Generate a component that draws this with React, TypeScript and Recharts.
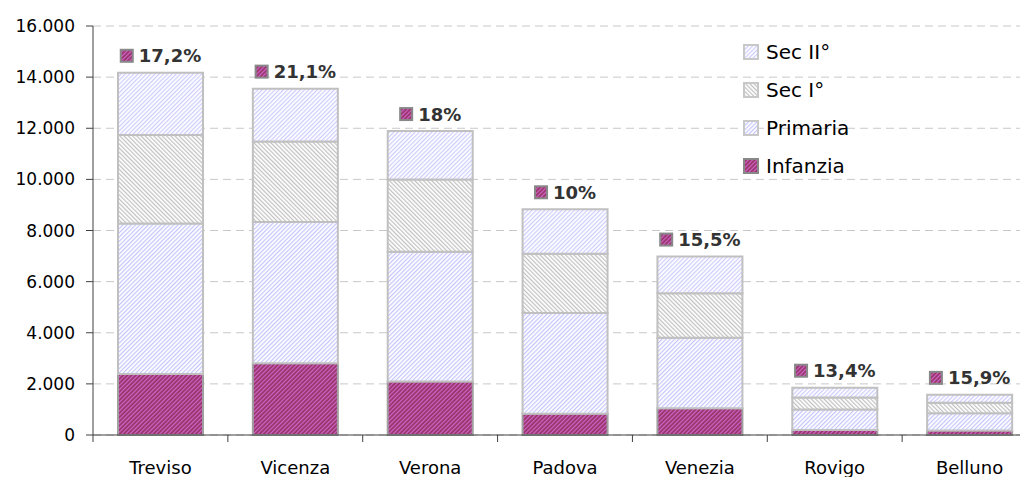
import React from "react";
import { Bar, BarChart, CartesianGrid, LabelList, XAxis, YAxis } from "recharts";

const categories = ["Treviso", "Vicenza", "Verona", "Padova", "Venezia", "Rovigo", "Belluno"];
const infanzia = [2390, 2810, 2090, 830, 1050, 200, 180];
const primaria = [5880, 5520, 5080, 3940, 2750, 800, 670];
const secI = [3470, 3150, 2830, 2320, 1750, 470, 410];
const secII = [2430, 2070, 1890, 1740, 1430, 380, 310];
const shares = ["17,2%", "21,1%", "18%", "10%", "15,5%", "13,4%", "15,9%"];
const yTicks = [0, 2000, 4000, 6000, 8000, 10000, 12000, 14000, 16000];

const data = categories.map((name, i) => ({
  name,
  infanzia: infanzia[i],
  primaria: primaria[i],
  secI: secI[i],
  secII: secII[i],
  share: shares[i],
}));

const CHART_W = 1040;
const CHART_H = 469;
const MARGIN = { top: 18, right: 11, bottom: 2, left: 0 };
const Y_W = 85;
const BAND = (CHART_W - MARGIN.left - MARGIN.right - Y_W) / categories.length;

const SERIES = [
  { key: "secII", label: "Sec II°", fill: "url(#patSec2)" },
  { key: "secI", label: "Sec I°", fill: "url(#patSec1)" },
  { key: "primaria", label: "Primaria", fill: "url(#patPrim)" },
  { key: "infanzia", label: "Infanzia", fill: "url(#patInf)" },
];

const fmt = (v: number) => String(v).replace(/\B(?=(\d{3})+(?!\d))/g, ".");

const font = "'DejaVu Sans', Verdana, sans-serif";

function textWidth(s: string, size: number) {
  let w = 0;
  for (const ch of s) {
    if (ch === "%") w += 1.002;
    else if (ch === ",") w += 0.38;
    else w += 0.696;
  }
  return w * size;
}

function ShareLabel(props: any) {
  const { x, y, width, value } = props;
  const size = 18;
  const tw = textWidth(String(value), size);
  const total = 14 + 5 + tw;
  const left = x + width / 2 - total / 2;
  const cy = y - 17;
  return (
    <g>
      <rect x={left + 1} y={cy - 6} width={12} height={12} fill="url(#patInf)" stroke="#888" strokeWidth={2} />
      <text
        x={left + 19}
        y={cy}
        dominantBaseline="central"
        fontFamily={font}
        fontWeight="bold"
        fontSize={size}
        fill="#333"
      >
        {value}
      </text>
    </g>
  );
}

function CatTick(props: any) {
  const { x, y, payload, index } = props;
  const left = x - BAND / 2;
  return (
    <g>
      <line x1={left} y1={y - 8} x2={left} y2={y - 1} stroke="#404040" strokeWidth={1} />
      {index === categories.length - 1 && (
        <line x1={x + BAND / 2} y1={y - 8} x2={x + BAND / 2} y2={y - 1} stroke="#404040" />
      )}
      <text x={x} y={y + 31} textAnchor="middle" fontFamily={font} fontSize={18} fill="#000">
        {payload.value}
      </text>
    </g>
  );
}

function LegendBox() {
  return (
    <div style={{ position: "absolute", top: 25, left: 734, fontFamily: font, fontSize: 20, color: "#000" }}>
      {SERIES.map((s) => (
        <div key={s.key} style={{ height: 38, display: "flex", alignItems: "center" }}>
          <svg width={24} height={18} style={{ display: "block" }}>
            <rect x={2} y={2} width={14} height={14} fill={s.fill} stroke={s.key === "infanzia" ? "#888" : "#c8c8c8"} strokeWidth={2} />
          </svg>
          <span>{s.label}</span>
        </div>
      ))}
    </div>
  );
}

export default function App() {
  return (
    <div style={{ width: 1020, height: CHART_H, overflow: "hidden", position: "relative" }}>
      <BarChart width={CHART_W} height={CHART_H} data={data} margin={MARGIN} barSize={85}>
        <defs>
          <pattern id="patInf" width="3" height="3" patternUnits="userSpaceOnUse" patternTransform="rotate(45)">
            <rect width="3" height="3" fill="#993366" />
            <rect width="1.2" height="3" fill="#cc66cc" />
          </pattern>
          <pattern id="patPrim" width="3" height="3" patternUnits="userSpaceOnUse" patternTransform="rotate(45)">
            <rect width="3" height="3" fill="#ffffff" />
            <rect width="1.2" height="3" fill="#c4c4ff" />
          </pattern>
          <pattern id="patSec1" width="3" height="3" patternUnits="userSpaceOnUse" patternTransform="rotate(-45)">
            <rect width="3" height="3" fill="#ffffff" />
            <rect width="1.2" height="3" fill="#c0c0c0" />
          </pattern>
          <pattern id="patSec2" width="3" height="3" patternUnits="userSpaceOnUse" patternTransform="rotate(45)">
            <rect width="3" height="3" fill="#ffffff" />
            <rect width="1.2" height="3" fill="#ccccff" />
          </pattern>
        </defs>
        <CartesianGrid vertical={false} stroke="#c8c8c8" strokeDasharray="8 5" />
        <XAxis
          dataKey="name"
          height={40}
          axisLine={{ stroke: "#404040" }}
          tickLine={false}
          tick={<CatTick />}
          interval={0}
        />
        <YAxis
          width={Y_W}
          domain={[0, 16000]}
          ticks={yTicks}
          interval={0}
          tickFormatter={fmt}
          axisLine={{ stroke: "#404040" }}
          tickLine={{ stroke: "#404040" }}
          tickSize={7}
          tickMargin={11}
          tick={{ fontFamily: font, fontSize: 17, fill: "#000" }}
        />
        <Bar dataKey="infanzia" stackId="s" fill="url(#patInf)" stroke="#a0a0a0" strokeWidth={2} isAnimationActive={false} />
        <Bar dataKey="primaria" stackId="s" fill="url(#patPrim)" stroke="#c0c0c0" strokeWidth={2} isAnimationActive={false} />
        <Bar dataKey="secI" stackId="s" fill="url(#patSec1)" stroke="#c0c0c0" strokeWidth={2} isAnimationActive={false} />
        <Bar dataKey="secII" stackId="s" fill="url(#patSec2)" stroke="#c0c0c0" strokeWidth={2} isAnimationActive={false}>
          <LabelList dataKey="share" content={<ShareLabel />} />
        </Bar>
      </BarChart>
      <LegendBox />
    </div>
  );
}
